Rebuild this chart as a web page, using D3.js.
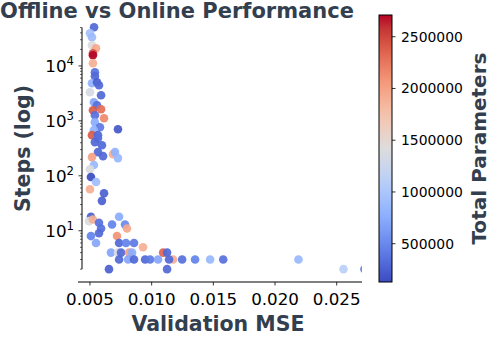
<!DOCTYPE html>
<html>
<head>
<meta charset="utf-8">
<script src="https://cdn.jsdelivr.net/npm/d3@7"></script>
<style>
  body { margin: 0; background: #fff; }
  svg { font-family: "DejaVu Sans", sans-serif; }
</style>
</head>
<body>
<svg id="chart" width="500" height="350"></svg>
<script>
// -- data -- //
const mse = [0.00533, 0.00500, 0.00516, 0.00516, 0.00549, 0.00524, 0.00524, 0.00524, 0.00540, 0.00540,
  0.00516, 0.00557, 0.00573, 0.00500, 0.00590, 0.00532, 0.00557, 0.00524, 0.00590, 0.00614,
  0.00540, 0.00540, 0.00581, 0.00727, 0.00532, 0.00516, 0.00565, 0.00565, 0.00540, 0.00597,
  0.00565, 0.00606, 0.00516, 0.00687, 0.00703, 0.00727, 0.00532, 0.00500, 0.00508, 0.00549,
  0.00500, 0.00614, 0.00597, 0.00508, 0.00492, 0.00524, 0.00573, 0.00679, 0.00736, 0.00784,
  0.00800, 0.00590, 0.00573, 0.00508, 0.00549, 0.00719, 0.00736, 0.00792, 0.00857, 0.00930,
  0.00670, 0.00727, 0.00752, 0.00817, 0.00841, 0.00736, 0.00809, 0.00857, 0.00947, 0.01093,
  0.01125, 0.01174, 0.00987, 0.01052, 0.01141, 0.01247, 0.01352, 0.01474, 0.01580, 0.02190,
  0.02555, 0.02725, 0.01125, 0.00654];
const steps = [50600, 39400, 33200, 23800, 21000, 17000, 15700, 11200, 7700, 6500,
  4840, 5050, 4460, 3330, 2930, 2190, 1930, 1560, 1630, 1120,
  1270, 946, 767, 706, 678, 550, 550, 484, 410, 361,
  270, 228, 219, 248, 270, 210, 157, 132, 95, 77,
  57, 48, 35, 18, 15, 16, 14, 13, 18, 13,
  11, 11, 9, 8, 6, 8, 6, 6, 6, 5,
  4, 4, 4, 4, 4, 3, 3, 3, 3, 4,
  4, 3, 3, 3, 3, 3, 3, 3, 3, 3,
  2, 2, 2, 2];
const params = [300000, 950000, 880000, 1400000, 1950000, 2450000, 2710000, 1900000, 350000, 300000,
  800000, 250000, 300000, 1350000, 300000, 700000, 350000, 2400000, 2300000, 2150000,
  350000, 750000, 400000, 200000, 800000, 2400000, 300000, 350000, 300000, 300000,
  300000, 300000, 2000000, 1900000, 800000, 850000, 850000, 1400000, 130000, 900000,
  1900000, 250000, 250000, 250000, 1400000, 1900000, 350000, 450000, 750000, 500000,
  1950000, 350000, 300000, 450000, 700000, 2100000, 300000, 450000, 400000, 1900000,
  700000, 1350000, 300000, 2000000, 750000, 300000, 700000, 300000, 300000, 2350000,
  300000, 1900000, 400000, 700000, 300000, 350000, 450000, 850000, 350000, 850000,
  1100000, 450000, 300000, 250000];
const xTicks = [0.005, 0.010, 0.015, 0.020, 0.025];
const yTicks = [10, 100, 1000, 10000];
const cbTicks = [500000, 1000000, 1500000, 2000000, 2500000];

const textColor = '#333f4f';

// coolwarm stops
const coolwarm = d3.piecewise(d3.interpolateLab,
  ['#3b4cc0', '#6282ea', '#8db0fe', '#b8d0f9', '#dddcdc', '#f5c4ac', '#f4987a', '#dc5d4a', '#b40426']);

const svg = d3.select('#chart');

// -- scales -- //
const xScale = d3.scaleLinear().domain([0.00403, 0.02705]).range([78, 362]);
const yScale = d3.scaleLog().domain([1, 1e5]).range([285.7, 11]);
const cExtent = d3.extent(params);
const color = d3.scaleSequential(coolwarm).domain(cExtent);

const data = mse.map((m, i) => ({ mse: m, steps: steps[i], params: params[i] }));

// -- points -- //
svg.append('clipPath').attr('id', 'clip')
  .append('rect').attr('x', 78).attr('y', 0).attr('width', 284).attr('height', 282);

svg.append('g').attr('clip-path', 'url(#clip)')
  .selectAll('.point')
  .data(data)
  .enter().append('circle')
  .attr('class', 'point')
  .attr('cx', d => xScale(d.mse))
  .attr('cy', d => yScale(d.steps))
  .attr('r', 4.3)
  .style('fill', d => color(d.params))
  .style('fill-opacity', 0.92);

// -- x axis -- //
const xAxis = svg.append('g');
xAxis.append('line')
  .attr('x1', 78).attr('x2', 362).attr('y1', 282).attr('y2', 282)
  .style('stroke', 'black').style('stroke-width', 1);
xAxis.selectAll('.xtick').data(xTicks).enter().append('line')
  .attr('x1', d => xScale(d)).attr('x2', d => xScale(d))
  .attr('y1', 282).attr('y2', 285.5)
  .style('stroke', 'black').style('stroke-width', 0.8);
xAxis.selectAll('.xlabel').data(xTicks).enter().append('text')
  .attr('x', d => xScale(d)).attr('y', 305)
  .attr('text-anchor', 'middle')
  .style('font-size', '16.7px')
  .text(d => d.toFixed(3));

// -- y axis (log, trimmed spine) -- //
const minor = [];
for (let e = 0; e <= 4; e++) {
  for (let k = 2; k <= 9; k++) {
    const v = k * Math.pow(10, e);
    if (v >= 2 && v <= 50000) minor.push(v);
  }
}
const spineX = 82;
const yAxis = svg.append('g');
yAxis.append('line')
  .attr('x1', spineX).attr('x2', spineX)
  .attr('y1', yScale(50000)).attr('y2', yScale(2))
  .style('stroke', 'black').style('stroke-width', 1);
yAxis.selectAll('.ymaj').data(yTicks).enter().append('line')
  .attr('x1', spineX - 3.5).attr('x2', spineX)
  .attr('y1', d => yScale(d)).attr('y2', d => yScale(d))
  .style('stroke', 'black').style('stroke-width', 0.8);
yAxis.selectAll('.ymin').data(minor).enter().append('line')
  .attr('x1', spineX - 2).attr('x2', spineX)
  .attr('y1', d => yScale(d)).attr('y2', d => yScale(d))
  .style('stroke', 'black').style('stroke-width', 0.6);
const yl = yAxis.selectAll('.ylabel').data(yTicks).enter().append('text')
  .attr('x', 74).attr('y', d => yScale(d) + 6)
  .attr('text-anchor', 'end')
  .style('font-size', '16.7px');
yl.append('tspan').text('10');
yl.append('tspan').attr('dy', -7).style('font-size', '11.7px')
  .text(d => Math.round(Math.log10(d)));

// -- labels -- //
svg.append('text')
  .attr('x', 177).attr('y', 17.5)
  .attr('text-anchor', 'middle')
  .style('font-size', '21px').style('font-weight', 'bold').style('fill', textColor)
  .text('Offline vs Online Performance');

svg.append('text')
  .attr('x', 218).attr('y', 331)
  .attr('text-anchor', 'middle')
  .style('font-size', '20.5px').style('font-weight', 'bold').style('fill', textColor)
  .text('Validation MSE');

svg.append('text')
  .attr('transform', 'translate(30,148.5) rotate(-90)')
  .attr('text-anchor', 'middle')
  .style('font-size', '20.5px').style('font-weight', 'bold').style('fill', textColor)
  .text('Steps (log)');

// -- colorbar -- //
const cbX = 379, cbW = 13;
const cbScale = d3.scaleLinear().domain(cExtent).range([282, 15]);
const grad = svg.append('defs').append('linearGradient')
  .attr('id', 'cbgrad').attr('x1', 0).attr('x2', 0).attr('y1', 1).attr('y2', 0);
d3.range(0, 1.0001, 0.05).forEach(t => {
  grad.append('stop').attr('offset', t).attr('stop-color', coolwarm(t));
});
svg.append('rect')
  .attr('x', cbX).attr('y', cbScale(cExtent[1]))
  .attr('width', cbW).attr('height', cbScale(cExtent[0]) - cbScale(cExtent[1]))
  .style('fill', 'url(#cbgrad)')
  .style('stroke', 'black').style('stroke-width', 1);
svg.selectAll('.cbtick').data(cbTicks).enter().append('line')
  .attr('x1', cbX + cbW).attr('x2', cbX + cbW + 3.5)
  .attr('y1', d => cbScale(d)).attr('y2', d => cbScale(d))
  .style('stroke', 'black').style('stroke-width', 0.8);
svg.selectAll('.cblabel').data(cbTicks).enter().append('text')
  .attr('x', 401).attr('y', d => cbScale(d) + 5)
  .style('font-size', '13.9px')
  .text(d => d);

svg.append('text')
  .attr('transform', 'translate(486,148.5) rotate(-90)')
  .attr('text-anchor', 'middle')
  .style('font-size', '20px').style('font-weight', 'bold').style('fill', textColor)
  .text('Total Parameters');
</script>
</body>
</html>
